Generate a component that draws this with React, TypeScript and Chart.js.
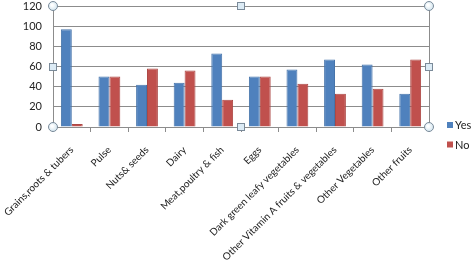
import React, { useEffect, useRef } from "react";
import { Chart, registerables } from "chart.js";

Chart.register(...registerables);

const categories = [
  "Grains,roots & tubers",
  "Pulse",
  "Nuts& seeds",
  "Dairy",
  "Meat,poultry & fish",
  "Eggs",
  "Dark green leafy vegetables",
  "Other Vitamin A fruits & vegetables",
  "Other Vegetables",
  "Other fruits",
];
const yesValues = [97, 50, 42, 44, 73, 50, 57, 67, 62, 33];
const noValues = [3, 50, 58, 56, 27, 50, 43, 33, 38, 67];
const seriesNames = ["Yes", "No"];
const seriesColors = ["#4F81BD", "#C0504D"];

const FONT = "Lato, 'Open Sans', sans-serif";

const framePlugin = {
  id: "frame",
  afterDraw(chart: any) {
    const { ctx, chartArea } = chart;
    const { left, right, top, bottom } = chartArea;
    ctx.save();
    ctx.strokeStyle = "#8c8c8c";
    ctx.lineWidth = 1;
    ctx.beginPath();
    ctx.moveTo(Math.round(right) + 0.5, top);
    ctx.lineTo(Math.round(right) + 0.5, bottom);
    ctx.stroke();
    const midX = (left + right) / 2;
    const midY = (top + bottom) / 2;
    const circles = [
      [left, top],
      [right, top],
      [left, bottom],
      [right, bottom],
    ];
    const squares = [
      [midX, top],
      [midX, bottom],
      [left, midY],
      [right, midY],
    ];
    ctx.strokeStyle = "#7a8a99";
    for (const [x, y] of circles) {
      const g = ctx.createRadialGradient(x - 1, y - 1, 1, x, y, 5);
      g.addColorStop(0, "#ffffff");
      g.addColorStop(1, "#cfe3ee");
      ctx.fillStyle = g;
      ctx.beginPath();
      ctx.arc(x, y, 4.5, 0, Math.PI * 2);
      ctx.fill();
      ctx.stroke();
    }
    for (const [x, y] of squares) {
      ctx.fillStyle = "#dcebf5";
      ctx.fillRect(Math.round(x) - 3.5, Math.round(y) - 3.5, 7, 7);
      ctx.strokeRect(Math.round(x) - 3.5, Math.round(y) - 3.5, 7, 7);
    }
    // legend
    ctx.font = `11px ${FONT}`;
    ctx.textBaseline = "middle";
    ctx.textAlign = "left";
    seriesNames.forEach((name, i) => {
      const cy = 125 + i * 19.5;
      const lx = right + 18;
      ctx.fillStyle = seriesColors[i];
      ctx.fillRect(lx, cy - 3, 6, 6);
      ctx.fillStyle = "#222";
      ctx.fillText(name, lx + 8, cy + 0.5);
    });
    ctx.restore();
  },
};

export default function App() {
  const ref = useRef<HTMLCanvasElement | null>(null);
  useEffect(() => {
    document.body.style.margin = "0";
    const chart = new Chart(ref.current!, {
      type: "bar",
      data: {
        labels: categories,
        datasets: [
          {
            label: seriesNames[0],
            data: yesValues,
            backgroundColor: seriesColors[0],
            borderColor: "#4674AB",
            borderWidth: 1,
          },
          {
            label: seriesNames[1],
            data: noValues,
            backgroundColor: seriesColors[1],
            borderColor: "#AD4845",
            borderWidth: 1,
          },
        ],
      },
      options: {
        animation: false,
        responsive: false,
        maintainAspectRatio: false,
        layout: { padding: { top: 6, right: 43, left: 0, bottom: 0 } },
        datasets: {
          bar: { categoryPercentage: 0.58, barPercentage: 1 },
        },
        plugins: {
          tooltip: { enabled: false },
          legend: { display: false },
        },
        scales: {
          x: {
            afterFit(scale: any) {
              scale.height = 135;
              scale.paddingLeft = 0;
              scale.paddingRight = 0;
            },
            grid: {
              offset: true,
              drawOnChartArea: false,
              drawTicks: true,
              tickLength: 5,
              color: "#8c8c8c",
            },
            border: { color: "#8c8c8c" },
            ticks: {
              minRotation: 45,
              maxRotation: 45,
              autoSkip: false,
              color: "#222",
              font: { family: FONT, size: 10 },
              padding: 12,
            },
          },
          y: {
            afterFit(scale: any) {
              scale.width = 53;
              scale.paddingTop = 0;
              scale.paddingBottom = 0;
            },
            min: 0,
            max: 120,
            ticks: {
              stepSize: 20,
              color: "#222",
              font: { family: FONT, size: 11 },
              padding: 11,
            },
            grid: { color: "#8c8c8c", drawTicks: false },
            border: { color: "#8c8c8c" },
          },
        },
      },
      plugins: [framePlugin],
    });
    return () => chart.destroy();
  }, []);
  return (
    <div style={{ width: 472, height: 262 }}>
      <canvas ref={ref} width={472} height={262} style={{ display: "block" }} />
    </div>
  );
}
